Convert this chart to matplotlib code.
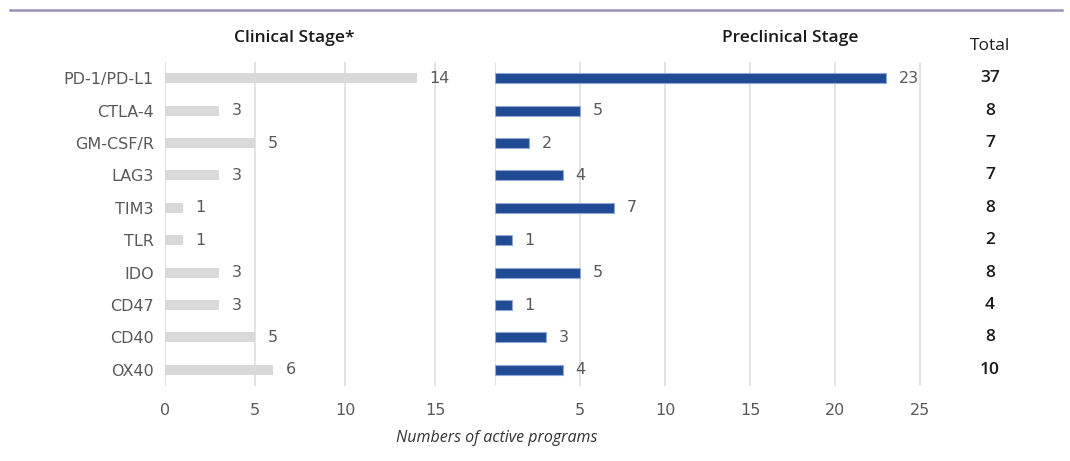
import matplotlib
matplotlib.use("Agg")
import matplotlib.pyplot as plt
from matplotlib.lines import Line2D

categories = ["PD-1/PD-L1", "CTLA-4", "GM-CSF/R", "LAG3", "TIM3", "TLR", "IDO", "CD47", "CD40", "OX40"]
clinical = [14, 3, 5, 3, 1, 1, 3, 3, 5, 6]
preclinical = [23, 5, 2, 4, 7, 1, 5, 1, 3, 4]
totals = [37, 8, 7, 7, 8, 2, 8, 4, 8, 10]
left_ticks = [0, 5, 10, 15]
right_ticks = [5, 10, 15, 20, 25]

plt.rcParams['font.family'] = ['DejaVu Sans']
W, H = 1070, 461
fig = plt.figure(figsize=(W / 100, H / 100), dpi=100)

def fx(px):
    return px / W

def fy(py):
    return 1 - py / H

ax_bottom = fy(386)
ax_h = (386 - 62) / H
axL = fig.add_axes([fx(165), ax_bottom, fx(453 - 165), ax_h])
axR = fig.add_axes([fx(495), ax_bottom, fx(937 - 495), ax_h])

grid_c = "#e0e0e0"
txt_c = "#595959"
lab_fs = 11.5
ypos = list(range(len(categories)))

for ax, xmax, ticks in [(axL, 16, left_ticks), (axR, 26, right_ticks)]:
    ax.set_xlim(0, xmax)
    ax.set_ylim(len(categories) - 0.5, -0.5)
    for s in ax.spines.values():
        s.set_visible(False)
    ax.set_xticks(ticks)
    ax.tick_params(axis='x', length=0, labelsize=lab_fs, labelcolor=txt_c, pad=12)
    ax.tick_params(axis='y', length=0)
    ax.grid(axis='x', color=grid_c, linewidth=1.3)
    ax.set_axisbelow(True)
    ax.axvline(0, color=grid_c, linewidth=1.3, zorder=0)

axL.barh(ypos, clinical, height=0.31, color="#d9d9d9")
axR.barh(ypos, preclinical, height=0.31, color="#1f4a94", edgecolor="#8fa8d6", linewidth=0.8)

axL.set_yticks(ypos)
axL.set_yticklabels(categories, fontsize=lab_fs, color=txt_c)
axL.tick_params(axis='y', pad=8)
axR.set_yticks([])

for i, v in enumerate(clinical):
    axL.annotate(str(v), (v, i), xytext=(9, 0), textcoords='offset points',
                 va='center', ha='left', fontsize=lab_fs, color=txt_c)
for i, v in enumerate(preclinical):
    axR.annotate(str(v), (v, i), xytext=(9, 0), textcoords='offset points',
                 va='center', ha='left', fontsize=lab_fs, color=txt_c)

# totals column
for i, t in enumerate(totals):
    y_disp = axR.transData.transform((0, i))[1]
    y_fig = fig.transFigure.inverted().transform((0, y_disp))[1]
    fig.text(fx(990), y_fig, str(t), ha='center', va='center', fontsize=12.5,
             color="#1a1a1a", fontweight='semibold', family=['Open Sans', 'DejaVu Sans'])

fig.text(fx(990), fy(46), "Total", ha='center', va='center', fontsize=12.5, color="#1a1a1a",
         family=['Open Sans', 'DejaVu Sans'])
fig.text(fx(294), fy(38), "Clinical Stage*", ha='center', va='center', fontsize=12.5,
         fontweight='semibold', color="#1a1a1a", family=['Open Sans', 'DejaVu Sans'])
fig.text(fx(790), fy(38), "Preclinical Stage", ha='center', va='center', fontsize=12.5,
         fontweight='semibold', color="#1a1a1a", family=['Open Sans', 'DejaVu Sans'])
fig.text(fx(497), fy(438), "Numbers of active programs", ha='center', va='center',
         fontsize=11.5, style='italic', color="#333333", family=['Open Sans', 'DejaVu Sans'])

fig.add_artist(Line2D([fx(10), fx(1062)], [fy(10), fy(10)], color="#9b90b8", linewidth=1.8,
                      transform=fig.transFigure))

fig.savefig("out.png", dpi=100)
